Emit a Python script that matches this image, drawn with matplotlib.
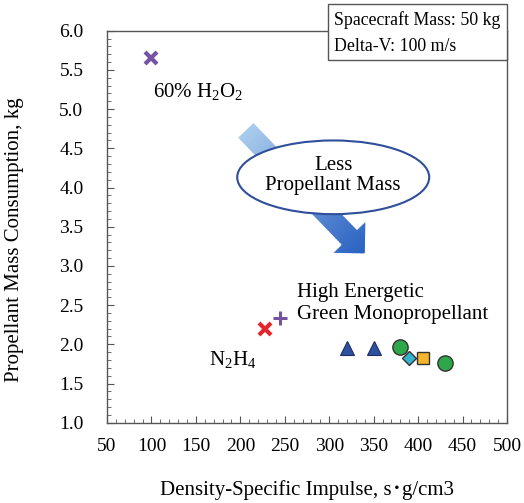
import numpy as np
import matplotlib
matplotlib.use('Agg')
import matplotlib.pyplot as plt
from matplotlib.patches import Ellipse, Polygon, Rectangle
from matplotlib.transforms import IdentityTransform
from matplotlib.ticker import MultipleLocator

plt.rcParams['font.family'] = ['Liberation Serif', 'Noto Sans CJK JP']
plt.rcParams['mathtext.fontset'] = 'custom'
plt.rcParams['mathtext.rm'] = 'Liberation Serif'

# propellant data: density-specific impulse vs. propellant mass
h2o2_isp, h2o2_mass = [100], [5.65]
n2h4_isp, n2h4_mass = [228], [2.20]
plus_isp, plus_mass = [245], [2.33]
tri_isp, tri_mass = [320, 350], [1.95, 1.95]
circ_isp, circ_mass = [380, 430], [1.97, 1.76]
dia_isp, dia_mass = [390], [1.82]
sq_isp, sq_mass = [405], [1.83]

xticks = [50, 100, 150, 200, 250, 300, 350, 400, 450, 500]
yticks = [1.0, 1.5, 2.0, 2.5, 3.0, 3.5, 4.0, 4.5, 5.0, 5.5, 6.0]

W, H = 524, 503
fig = plt.figure(figsize=(W / 100, H / 100), dpi=100)
ax = fig.add_axes([107 / W, (H - 422.7) / H, 400 / W, 392 / H])
ax.set_xlim(50, 500)
ax.set_ylim(1.0, 6.0)
ax.set_xticks(xticks)
ax.set_yticks(yticks)
ax.set_yticklabels([f'{v:.1f}' for v in yticks])
ax.xaxis.set_minor_locator(MultipleLocator(10))
ax.yaxis.set_minor_locator(MultipleLocator(0.1))
ax.tick_params(which='both', direction='in', top=False, right=False, colors='#555555', labelcolor='black', labelsize=14)
ax.tick_params(which='major', length=5)
ax.tick_params(which='minor', length=3)
ax.tick_params(axis='y', pad=17)
ax.tick_params(axis='x', pad=11)
for s in ax.spines.values():
    s.set_color('#555555')
    s.set_linewidth(1.0)

ax.set_xlabel('Density-Specific Impulse, s\uff65g/cm3', fontsize=15, va='center')
ax.set_ylabel('Propellant Mass Consumption, kg', fontsize=15, va='center')
ax.xaxis.set_label_coords(0.5, -0.172)
ax.yaxis.set_label_coords(-0.23, 0.466)

# markers
ax.plot(h2o2_isp, h2o2_mass, 'x', color='#7652a3', ms=9, mew=3, zorder=5)
ax.plot(n2h4_isp, n2h4_mass, 'x', color='#e3262c', ms=8, mew=3, zorder=5)
ax.plot(plus_isp, plus_mass, '+', color='#7652a3', ms=10, mew=2.2, zorder=5)
ax.plot(tri_isp, tri_mass, '^', color='#2c4f9e', mec='#1f2f66', ms=10, mew=0.8, ls='none', zorder=5)
ax.plot(circ_isp, circ_mass, 'o', color='#2ea64a', mec='#333333', ms=11, mew=1.0, ls='none', zorder=5)
ax.plot(dia_isp, dia_mass, 'D', color='#36b3c9', mec='#333333', ms=7, mew=1.0, ls='none', zorder=6)
ax.plot(sq_isp, sq_mass, 's', color='#f5b52c', mec='#333333', ms=9, mew=1.0, ls='none', zorder=5)

# labels
ax.text(102, 5.22, '60% H$_2$O$_2$', fontsize=15, va='center', ha='left')
ax.text(191, 1.80, 'N$_2$H$_4$', fontsize=15, va='center', ha='center')
ax.text(264, 2.52, 'High Energetic\nGreen Monopropellant', fontsize=15, va='center', ha='left', linespacing=1.15)

# gradient arrow, built in display space so it keeps its 45 degree shape
fig.canvas.draw()
tail = ax.transData.transform((206, 4.73))
tip = ax.transData.transform((340, 3.16))
d = (tip - tail) / np.linalg.norm(tip - tail)
n = np.array([-d[1], d[0]])
length = np.linalg.norm(tip - tail)
shaft_w, head_w, head_l = 21, 44, 22
neck = tail + d * (length - head_l)
pts = [tail + n * shaft_w / 2, neck + n * shaft_w / 2, neck + n * head_w / 2, tip,
       neck - n * head_w / 2, neck - n * shaft_w / 2, tail - n * shaft_w / 2]
arrow = Polygon(pts, closed=True, transform=IdentityTransform(), facecolor='none', edgecolor='none', zorder=3)
ax.add_patch(arrow)
c0 = np.array(matplotlib.colors.to_rgb('#a9cbec'))
c1 = np.array(matplotlib.colors.to_rgb('#2a62c2'))
steps = 60
for i in range(steps):
    t0, t1 = length * i / steps, length * (i + 1) / steps + 1
    p0, p1 = tail + d * t0, tail + d * t1
    band = Polygon([p0 + n * 30, p1 + n * 30, p1 - n * 30, p0 - n * 30], closed=True,
                   transform=IdentityTransform(), facecolor=c0 + (c1 - c0) * i / (steps - 1),
                   edgecolor='none', zorder=3)
    ax.add_patch(band)
    band.set_clip_path(arrow)

ax.add_patch(Ellipse((304.5, 4.13), 216, 0.94, facecolor='white', edgecolor='#2f4f9a', lw=1.5, zorder=4))
ax.text(304.5, 4.15, 'Less\nPropellant Mass', fontsize=15, ha='center', va='center', linespacing=1.05, zorder=5)

# condition box at the upper right
fig.patches.append(Rectangle((328 / W, 1 - 60 / H), 179 / W, 56 / H, transform=fig.transFigure,
                             facecolor='white', edgecolor='#555555', lw=1.0, zorder=10))
fig.text(334 / W, 1 - 20 / H, 'Spacecraft Mass: 50 kg', fontsize=12.8, va='center', ha='left', zorder=11)
fig.text(334 / W, 1 - 46 / H, 'Delta-V: 100 m/s', fontsize=12.8, va='center', ha='left', zorder=11)

fig.savefig('out.png', dpi=100)
